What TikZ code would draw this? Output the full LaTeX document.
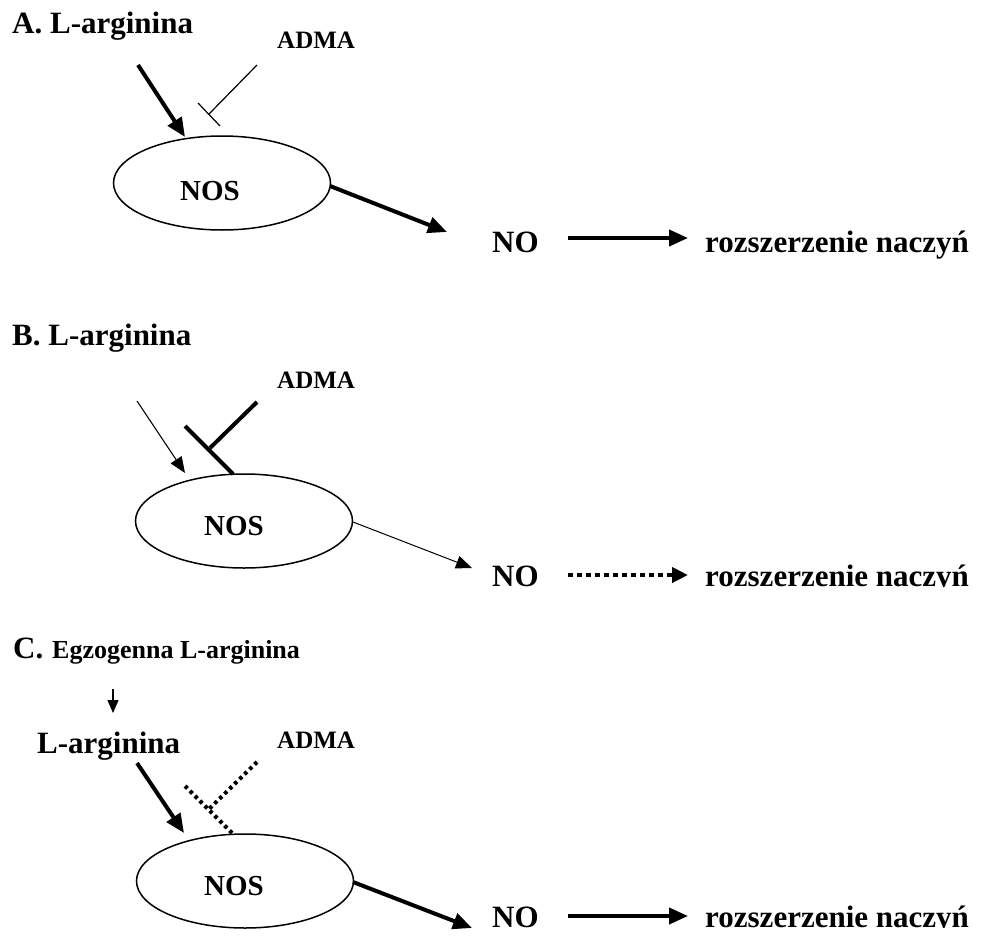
\documentclass[tikz,border=0pt]{standalone}
\usepackage{fontspec}
\setmainfont{Liberation Serif}
\usetikzlibrary{arrows.meta,shapes.geometric}
\begin{document}
\begin{tikzpicture}[x=1pt,y=-1pt,
  big/.style={inner sep=0pt, anchor=base west, font=\bfseries\fontsize{31}{37}\selectfont},
  mid/.style={inner sep=0pt, anchor=base west, font=\bfseries\fontsize{26}{31}\selectfont},
  small/.style={inner sep=0pt, anchor=base west, font=\bfseries\fontsize{25}{30}\selectfont},
  nos/.style={draw, ellipse, line width=1.5pt, minimum width=217pt, minimum height=94pt, inner sep=0pt},
  nostxt/.style={inner sep=0pt, anchor=base, font=\bfseries\fontsize{29}{34}\selectfont},
  heavy/.style={line width=4pt, -{Triangle[length=19pt,width=16pt]}},
  light/.style={line width=1pt, -{Triangle[length=16pt,width=13pt]}},
  tiny/.style={line width=1.3pt, -{Triangle[length=13pt,width=11pt]}},
  inhthin/.style={line width=1.2pt},
  inhthick/.style={line width=4pt},
  inhdot/.style={line width=4pt, dash pattern=on 3.5pt off 3.5pt},
  dotarrow/.style={line width=4pt, dash pattern=on 4.5pt off 4.5pt, -{Triangle[length=16pt,width=15pt]}}
]
\useasboundingbox (0,0) rectangle (988,948);

% ---------------- A ----------------
\node[big] (headA) at (12,33) {A. L-arginina};
\node[small] (admaA) at (277,48) {ADMA};
\node[nos] (nosA) at (222,183) {};
\node[nostxt] (nosAt) at (210,200) {NOS};
\begin{scope}
  \clip (470,200) rectangle (560,254);
  \node[big] (noA) at (492,252) {NO};
\end{scope}
\node[big] (vasoA) at (705,252) {rozszerzenie naczyń};
\coordinate (argA) at (138,65);
\coordinate (argAend) at (185,137);
\draw[heavy] (argA) -- (argAend);
\coordinate (admaAs) at (257,65);
\coordinate (admaAj) at (209,114);
\coordinate (barA1) at (198,103);
\coordinate (barA2) at (220,126);
\draw[inhthin] (admaAs) -- (admaAj);
\draw[inhthin] (barA1) -- (barA2);
\coordinate (outAs) at (330,186);
\coordinate (outAe) at (447,232);
\draw[heavy] (outAs) -- (outAe);
\coordinate (vAs) at (568,238);
\coordinate (vAe) at (688,238);
\draw[heavy] (vAs) -- (vAe);

% ---------------- B ----------------
\node[big] (headB) at (12,345) {B. L-arginina};
\node[small] (admaB) at (277,388) {ADMA};
\node[nos] (nosB) at (244,521) {};
\node[nostxt] (nosBt) at (234,535) {NOS};
\begin{scope}
  \clip (470,540) rectangle (990,586);
  \node[big] (noB) at (492,586) {NO};
  \node[big] (vasoB) at (705,586) {rozszerzenie naczyń};
\end{scope}
\coordinate (argB) at (137,401);
\coordinate (argBend) at (185,473);
\draw[light] (argB) -- (argBend);
\coordinate (admaBs) at (257,402);
\coordinate (admaBj) at (210,448);
\coordinate (barB1) at (185,426);
\coordinate (barB2) at (233,474);
\draw[inhthick] (admaBs) -- (admaBj);
\draw[inhthick] (barB1) -- (barB2);
\coordinate (outBs) at (353,522);
\coordinate (outBe) at (472,568);
\draw[light] (outBs) -- (outBe);
\coordinate (vBs) at (568,575);
\coordinate (vBe) at (688,575);
\draw[dotarrow] (vBs) -- (vBe);

% ---------------- C ----------------
\node[big] (headC) at (13,658) {C.};
\node[mid] (egzo) at (52,658) {Egzogenna L-arginina};
\coordinate (egzoS) at (113,689);
\coordinate (egzoE) at (113,713);
\draw[tiny] (egzoS) -- (egzoE);
\node[big] (argC) at (37,753) {L-arginina};
\node[small] (admaC) at (277,748) {ADMA};
\node[nos] (nosC) at (245,881) {};
\node[nostxt] (nosCt) at (234,895) {NOS};
\begin{scope}
  \clip (470,880) rectangle (990,927);
  \node[big] (noC) at (492,927) {NO};
  \node[big] (vasoC) at (705,927) {rozszerzenie naczyń};
\end{scope}
\coordinate (argCs) at (137,763);
\coordinate (argCe) at (184,833);
\draw[heavy] (argCs) -- (argCe);
\coordinate (admaCs) at (257,762);
\coordinate (admaCj) at (209,809);
\coordinate (barC1) at (185,786);
\coordinate (barC2) at (233,834);
\draw[inhdot] (admaCs) -- (admaCj);
\draw[inhdot] (barC1) -- (barC2);
\coordinate (outCs) at (353,882);
\coordinate (outCe) at (472,928);
\draw[heavy] (outCs) -- (outCe);
\coordinate (vCs) at (568,916);
\coordinate (vCe) at (688,916);
\draw[heavy] (vCs) -- (vCe);
\end{tikzpicture}
\end{document}
